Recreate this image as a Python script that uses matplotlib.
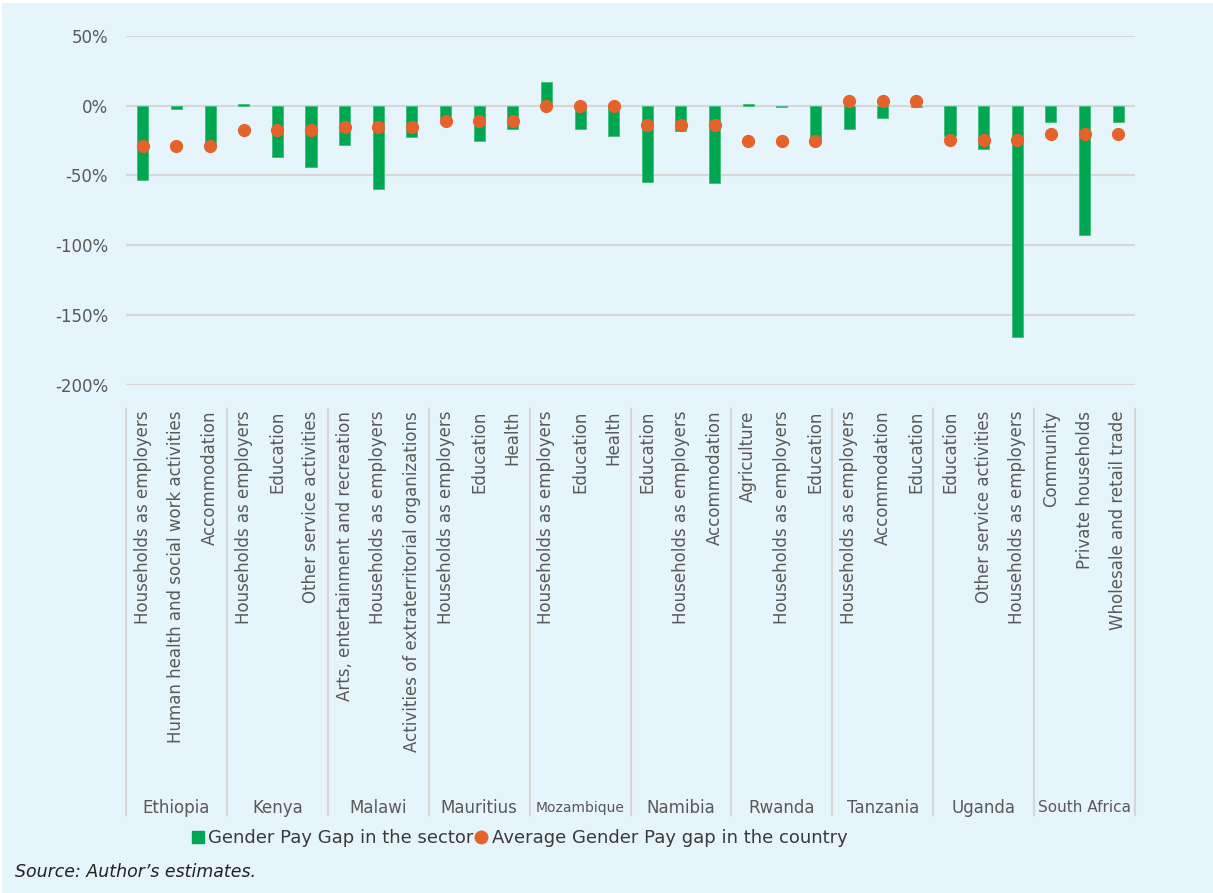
import matplotlib.pyplot as plt
import matplotlib.transforms as mtransforms
from matplotlib.lines import Line2D
from matplotlib.patches import Rectangle

countries = ["Ethiopia", "Kenya", "Malawi", "Mauritius", "Mozambique",
             "Namibia", "Rwanda", "Tanzania", "Uganda", "South Africa"]
sectors = [
    ["Households as employers", "Human health and social work activities", "Accommodation"],
    ["Households as employers", "Education", "Other service activities"],
    ["Arts, entertainment and recreation", "Households as employers",
     "Activities of extraterritorial organizations"],
    ["Households as employers", "Education", "Health"],
    ["Households as employers", "Education", "Health"],
    ["Education", "Households as employers", "Accommodation"],
    ["Agriculture", "Households as employers", "Education"],
    ["Households as employers", "Accommodation", "Education"],
    ["Education", "Other service activities", "Households as employers"],
    ["Community", "Private households", "Wholesale and retail trade"],
]
# gender pay gap by sector (%)
sector_gap = [
    [-53, -2.5, -28],
    [1.2, -37, -44],
    [-28, -60, -22.5],
    [-12, -25, -17],
    [17, -17, -22],
    [-54.5, -18, -55.5],
    [1.2, -1, -25],
    [-17, -9, -1],
    [-22, -31, -166],
    [-11.5, -92.5, -12],
]
# average gender pay gap per country (%)
country_avg = [-29, -17.5, -15, -11, -0.5, -13.5, -25.5, 3.3, -24.5, -20]
yticks = [50, 0, -50, -100, -150, -200]

green = "#00a651"
orange = "#e5632a"
grey = "#595959"
bg = "#e6f4fb"

labels = [s for grp in sectors for s in grp]
bars = [v for grp in sector_gap for v in grp]
dots = [country_avg[i] for i, grp in enumerate(sectors) for _ in grp]
x = list(range(len(labels)))

fig = plt.figure(figsize=(12.13, 8.93), dpi=100, facecolor="white")
fig.patches.append(Rectangle((2 / 1213, 0), 1, 1 - 3 / 893, transform=fig.transFigure,
                             facecolor=bg, edgecolor="none", zorder=-10))
ax = fig.add_axes([126 / 1213, 1 - 384.5 / 893, (1135 - 126) / 1213, (384.5 - 36) / 893])
ax.set_facecolor(bg)
ax.patch.set_alpha(0)

ax.bar(x, bars, width=0.33, color=green, edgecolor="#3cc07a", linewidth=0.6, zorder=2)
ax.plot(x, dots, "o", color=orange, markersize=8.5, zorder=3)

ax.set_xlim(-0.5, len(labels) - 0.5)
ax.set_ylim(-200, 50)
ax.set_yticks(yticks)
ax.set_yticklabels([f"{t}%" for t in yticks], fontsize=12, color=grey)
ax.yaxis.grid(True, color="#d6d6d6", linewidth=1.5, zorder=0)
ax.tick_params(axis="y", length=0, pad=13)
for s in ax.spines.values():
    s.set_visible(False)

ax.set_xticks(x)
ax.set_xticklabels(labels, rotation=90, fontsize=12, color=grey, va="top", ha="center")
ax.tick_params(axis="x", length=0, pad=19)

# group separators and country names
tr = mtransforms.blended_transform_factory(ax.transData, fig.transFigure)
y_top = 1 - 409 / 893
y_bot = 1 - 815 / 893
pos = -0.5
for c, grp in zip(countries, sectors):
    ax.add_line(Line2D([pos, pos], [y_top, y_bot], transform=tr, color="#d6d6d6",
                       linewidth=1.5, clip_on=False))
    size = 10 if c == "Mozambique" else (11 if c == "South Africa" else 12)
    ax.text(pos + len(grp) / 2, 1 - 808 / 893, c, transform=tr, ha="center", va="center",
            fontsize=size, color=grey)
    pos += len(grp)
ax.add_line(Line2D([pos, pos], [y_top, y_bot], transform=tr, color="#d6d6d6",
                   linewidth=1.5, clip_on=False))

handles = [
    Line2D([], [], marker="s", color=green, linestyle="none", markersize=9),
    Line2D([], [], marker="o", color=orange, linestyle="none", markersize=9),
]
fig.legend(handles, ["Gender Pay Gap in the sector", "Average Gender Pay gap in the country"],
           loc="center", bbox_to_anchor=(519 / 1213, 1 - 838 / 893), ncol=2, frameon=False,
           fontsize=13, handlelength=0.8, handletextpad=0.2, columnspacing=0.0,
           labelcolor="#3a3a3a")

fig.text(15 / 1213, 1 - 872 / 893, "Source: Author\u2019s estimates.", fontsize=12.5,
         style="italic", color="#222222", va="center", ha="left")

fig.savefig("out.png", dpi=100, facecolor=fig.get_facecolor())
